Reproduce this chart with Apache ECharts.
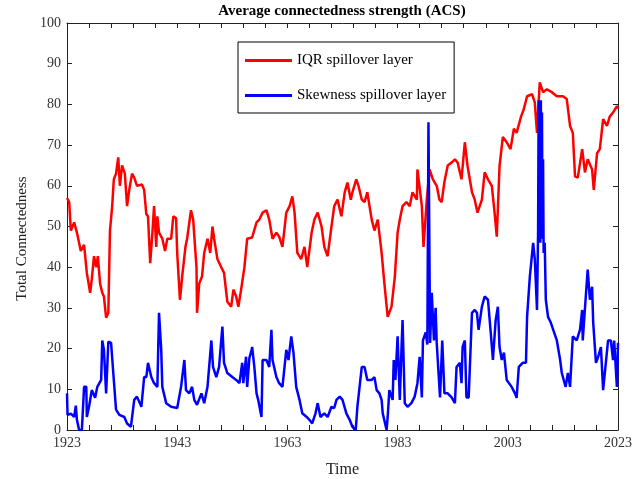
<!DOCTYPE html>
<html>
<head>
<meta charset="utf-8">
<script src="https://cdn.jsdelivr.net/npm/echarts@6/dist/echarts.min.js"></script>
<style>
  html, body { margin: 0; padding: 0; background: #fff; }
  #main { width: 635px; height: 479px; }
</style>
</head>
<body>
<div id="main"></div>
<script>
// IQR spillover layer (red)
const iqrYears = [
  1923.0, 1923.4, 1923.7, 1924.3, 1924.8, 1925.5, 1926.1, 1926.6, 1927.2, 1927.5,
  1927.9, 1928.3, 1928.6, 1929.0, 1929.4, 1929.7, 1930.1, 1930.5, 1930.8, 1931.2,
  1931.5, 1931.9, 1932.3, 1932.6, 1933.0, 1933.5, 1933.9, 1934.3, 1934.8, 1935.2,
  1935.7, 1936.6, 1937.0, 1937.4, 1937.7, 1938.1, 1938.5, 1938.8, 1939.2, 1939.4,
  1939.7, 1940.3, 1940.8, 1941.2, 1941.9, 1942.3, 1942.8, 1943.0, 1943.5, 1943.9,
  1944.5, 1944.8, 1945.5, 1945.9, 1946.5, 1946.6, 1947.0, 1947.5, 1947.9, 1948.5,
  1949.0, 1949.4, 1949.7, 1950.3, 1951.0, 1951.5, 1952.1, 1952.8, 1953.2, 1953.7,
  1954.1, 1954.6, 1955.2, 1955.7, 1956.6, 1957.4, 1957.9, 1958.5, 1959.2, 1959.7,
  1960.3, 1961.0, 1961.5, 1962.1, 1962.8, 1963.4, 1963.9, 1964.3, 1964.8, 1965.5,
  1966.1, 1966.6, 1967.4, 1967.9, 1968.5, 1969.2, 1969.7, 1970.3, 1971.0, 1971.5,
  1972.1, 1972.8, 1973.4, 1973.9, 1974.5, 1974.8, 1975.5, 1975.9, 1976.5, 1977.0,
  1977.5, 1978.3, 1978.8, 1979.4, 1980.1, 1980.6, 1981.2, 1981.9, 1982.5, 1983.0,
  1983.4, 1983.9, 1984.6, 1985.2, 1985.7, 1986.5, 1986.6, 1987.4, 1987.7, 1988.3,
  1988.8, 1989.4, 1990.1, 1990.6, 1991.0, 1991.5, 1992.1, 1992.8, 1993.4, 1993.9,
  1994.6, 1995.2, 1995.7, 1996.5, 1997.0, 1997.5, 1998.3, 1998.8, 1999.4, 2000.1,
  2000.6, 2001.0, 2001.5, 2002.1, 2002.8, 2003.5, 2004.1, 2004.6, 2005.4, 2005.9,
  2006.5, 2007.4, 2007.9, 2008.3, 2008.8, 2009.4, 2010.1, 2011.0, 2011.9, 2013.0,
  2013.7, 2014.3, 2014.8, 2015.2, 2015.7, 2016.5, 2017.0, 2017.5, 2018.3, 2018.6,
  2019.2, 2019.7, 2020.3, 2021.0, 2021.5, 2022.1, 2022.8, 2023.0
];
const iqrValues = [
  57, 56, 49, 51, 48.5, 44, 45.5, 38.6, 33.7, 37,
  42.7, 40, 42.7, 36, 33.7, 32.8, 27.6, 28.8, 49, 55,
  61.6, 63, 67, 60, 65, 63, 55, 59, 63, 62,
  60, 60.3, 59, 53, 52.5, 41, 48.5, 55, 45, 52.5,
  48.5, 47, 44, 47, 47, 52.5, 52, 43.5, 32, 37.7,
  45, 47, 54, 51.7, 40, 28.8, 36, 37.7, 43.5, 47,
  43.5, 50, 47, 42, 40, 38.6, 31.5, 30.3, 34.5, 32.8,
  30.3, 34.5, 40, 47, 47.3, 51, 51.7, 53.4, 54, 51.7,
  47, 48.5, 47.5, 45, 53.4, 55, 57.4, 53.4, 43.5, 42,
  45, 40, 48.5, 51.7, 53.4, 50, 45, 42.7, 50, 55,
  56.6, 52.5, 58.4, 60.8, 56.6, 58.4, 61.6, 60, 56.6, 56,
  58.4, 51.7, 49, 51.7, 43.5, 36, 27.8, 30.3, 37.7, 48.5,
  51.7, 55, 56, 55, 58.4, 56.6, 64, 55, 45, 56.6,
  64, 61.6, 60, 56.6, 56, 61, 65, 65.7, 66.5, 65.7,
  61.6, 70.7, 64.8, 58.4, 56.6, 53.4, 56.6, 63.3, 61.6, 60,
  53.4, 47.5, 64.8, 72, 70.7, 69, 74, 73, 77, 78.8,
  82, 82.5, 80.5, 73, 85.4, 83, 83.7, 83, 82, 82,
  81.3, 74.7, 73, 62.3, 62, 69, 63.3, 66.5, 64, 59,
  68, 69, 76.4, 74.7, 77, 78, 79.6, 79
];

// Skewness spillover layer (blue)
const skewYears = [
  1923.0, 1923.1, 1923.7, 1924.3, 1924.6, 1924.8, 1925.2, 1925.7, 1926.1, 1926.5,
  1926.6, 1927.0, 1927.5, 1928.1, 1928.5, 1929.2, 1929.4, 1929.7, 1930.1, 1930.5,
  1931.0, 1931.4, 1931.9, 1932.5, 1933.4, 1933.9, 1934.6, 1935.2, 1935.7, 1936.5,
  1937.0, 1937.4, 1937.7, 1938.3, 1938.8, 1939.4, 1939.7, 1940.1, 1940.3, 1941.0,
  1941.9, 1943.0, 1943.7, 1944.3, 1944.6, 1945.2, 1945.7, 1946.1, 1946.6, 1947.4,
  1947.9, 1948.5, 1949.2, 1949.5, 1950.1, 1950.6, 1951.2, 1951.5, 1952.1, 1953.0,
  1953.7, 1954.3, 1954.8, 1955.0, 1955.5, 1955.7, 1956.1, 1956.5, 1956.6, 1957.0,
  1957.4, 1957.7, 1958.3, 1958.5, 1959.2, 1959.7, 1960.1, 1960.3, 1961.0, 1961.5,
  1962.1, 1962.8, 1963.2, 1963.7, 1964.1, 1964.6, 1965.2, 1965.7, 1966.5, 1967.0,
  1967.5, 1968.1, 1968.5, 1969.0, 1969.7, 1970.3, 1971.0, 1971.5, 1971.9, 1972.5,
  1973.0, 1973.7, 1974.3, 1974.8, 1975.4, 1975.7, 1976.5, 1977.0, 1977.5, 1978.3,
  1978.8, 1979.2, 1979.7, 1980.1, 1980.3, 1981.0, 1981.2, 1981.5, 1982.1, 1982.3,
  1982.6, 1983.0, 1983.4, 1983.7, 1983.9, 1984.3, 1984.8, 1985.5, 1986.1, 1986.6,
  1987.0, 1987.4, 1987.6, 1988.1, 1988.4, 1988.6, 1988.9, 1989.2, 1989.6, 1989.9,
  1990.1, 1990.7, 1991.1, 1991.5, 1992.1, 1992.8, 1993.4, 1993.7, 1994.3, 1994.6,
  1994.8, 1995.2, 1995.5, 1995.9, 1996.5, 1997.0, 1997.4, 1997.7, 1998.3, 1998.8,
  1999.4, 1999.9, 2000.3, 2000.8, 2001.2, 2001.5, 2001.9, 2002.3, 2002.8, 2003.7,
  2004.3, 2004.6, 2005.0, 2005.7, 2006.3, 2006.5, 2007.0, 2007.6, 2007.9, 2008.3,
  2008.5, 2008.6, 2008.7, 2008.8, 2008.9, 2009.0, 2009.1, 2009.2, 2009.3, 2009.4,
  2009.5, 2009.7, 2009.9, 2010.3, 2010.8, 2011.4, 2011.9, 2012.5, 2012.8, 2013.5,
  2013.9, 2014.3, 2014.8, 2015.5, 2016.1, 2016.5, 2016.6, 2017.2, 2017.5, 2017.9,
  2018.3, 2018.5, 2019.0, 2019.4, 2019.9, 2020.3, 2020.6, 2021.2, 2021.7, 2022.1,
  2022.3, 2022.8, 2023.0
];
const skewValues = [
  9, 3.7, 4, 3.2, 6, 2.5, 0, 0, 10.6, 10.6,
  3.2, 5.7, 9.8, 7.9, 10.6, 12.3, 22, 19.7, 9, 21.7,
  21.4, 14, 5, 3.7, 3.2, 1.6, 0.8, 7.4, 8.2, 5.7,
  13, 13, 16.5, 13, 11.5, 10.6, 28.8, 19.7, 10.6, 6.6,
  5.7, 5.4, 10.6, 17.2, 9.8, 9, 10.6, 7.4, 6.2, 9,
  6.6, 10.6, 22, 15.5, 13, 15.5, 25.4, 16.5, 14, 13,
  12.3, 11.5, 16.5, 11.5, 18, 10.6, 17.7, 19.7, 20.4, 15.5,
  9, 7.4, 3.2, 17.2, 17.2, 15.5, 24.6, 17.2, 13, 11.5,
  10.6, 19.7, 17.2, 23, 19, 10.6, 7.4, 4.1, 3.2, 2.5,
  1.6, 4.1, 6.6, 3.2, 4.1, 3.2, 5.7, 5.4, 7.4, 8.2,
  7.4, 4.1, 2.5, 0.8, 0, 5.7, 15.5, 15.5, 12.3, 12.3,
  13, 9.8, 9, 7.4, 4.1, 0, 3.2, 9.8, 7.4, 17.2,
  12.3, 23, 7.4, 19.7, 27, 6.6, 5.7, 6.6, 8.2, 11.5,
  18, 8, 22, 24, 21, 75.6, 21.4, 33.7, 22, 30,
  21.4, 8, 22, 9, 9, 8, 6.6, 15.5, 16.5, 11.5,
  20.4, 22, 8, 8, 28.8, 29.5, 28.8, 24.6, 30.3, 32.8,
  32, 24, 17.2, 27, 30.3, 20.4, 17.2, 19, 12.3, 10.6,
  9, 7.9, 15.5, 16.5, 16.5, 27.8, 37.7, 46, 42, 29.5,
  49, 81, 47, 80, 46, 81, 48.5, 78, 47, 66.5,
  43.5, 46, 32, 27.8, 26.4, 24, 22, 17.2, 14, 10.6,
  14, 10.6, 23, 22, 24.6, 29.5, 22, 33.7, 39.4, 32,
  35.2, 26.4, 16.5, 18, 20.4, 9.8, 9.8, 22, 22, 17.2,
  22, 10.6, 21.4
];

const yearTicks = [1923, 1943, 1963, 1983, 2003, 2023];
const yTicks = [0, 10, 20, 30, 40, 50, 60, 70, 80, 90, 100];

const serif = '"Liberation Serif", "DejaVu Serif", serif';
const chart = echarts.init(document.getElementById('main'), null, { renderer: 'canvas' });

// MATLAB-like box: ticks point inward on all four sides
function tick() {
  return { show: true, inside: true, length: 5, lineStyle: { color: '#222', width: 1 } };
}
function axisLine() {
  return { show: true, onZero: false, lineStyle: { color: '#222', width: 1 } };
}
// a tick every 4 years, a label every 20
const yearLabel = v => (yearTicks.indexOf(v) >= 0 ? String(v) : '');

const option = {
  backgroundColor: '#fff',
  animation: false,
  textStyle: { fontFamily: serif },
  graphic: [{
    type: 'text',
    x: 342,
    y: 11,
    style: {
      text: 'Average connectedness strength (ACS)',
      font: 'bold 15px ' + serif,
      fill: '#000',
      align: 'center',
      verticalAlign: 'middle'
    }
  }],
  legend: {
    orient: 'vertical',
    left: 238,
    top: 42,
    padding: [11, 8, 10, 7],
    itemGap: 20,
    itemWidth: 47,
    itemHeight: 3,
    icon: 'rect',
    borderColor: '#000',
    borderWidth: 1,
    backgroundColor: '#fff',
    textStyle: { fontFamily: serif, fontSize: 15, color: '#000' },
    data: ['IQR spillover layer', 'Skewness spillover layer']
  },
  grid: { left: 67, right: 17, top: 23, bottom: 49, outerBoundsMode: 'none' },
  xAxis: [{
    type: 'value',
    min: yearTicks[0],
    max: yearTicks[yearTicks.length - 1],
    interval: 4,
    name: 'Time',
    nameLocation: 'middle',
    nameGap: 32,
    nameTextStyle: { fontFamily: serif, fontSize: 16, color: '#222' },
    axisLine: axisLine(),
    axisTick: tick(),
    splitLine: { show: false },
    axisLabel: { fontFamily: serif, fontSize: 14, color: '#333', margin: 6, formatter: yearLabel }
  }, {
    type: 'value',
    position: 'top',
    min: yearTicks[0],
    max: yearTicks[yearTicks.length - 1],
    interval: 4,
    axisLine: axisLine(),
    axisTick: tick(),
    splitLine: { show: false },
    axisLabel: { show: false }
  }],
  yAxis: [{
    type: 'value',
    min: yTicks[0],
    max: yTicks[yTicks.length - 1],
    interval: 10,
    name: 'Total Connectedness',
    nameLocation: 'middle',
    nameGap: 37,
    nameTextStyle: { fontFamily: serif, fontSize: 15, color: '#222', padding: [0, 24, 0, 0] },
    axisLine: axisLine(),
    axisTick: tick(),
    splitLine: { show: false },
    axisLabel: { fontFamily: serif, fontSize: 14, color: '#333', margin: 6 }
  }, {
    type: 'value',
    position: 'right',
    min: yTicks[0],
    max: yTicks[yTicks.length - 1],
    interval: 10,
    axisLine: axisLine(),
    axisTick: tick(),
    splitLine: { show: false },
    axisLabel: { show: false }
  }],
  series: [{
    name: 'IQR spillover layer',
    type: 'line',
    symbol: 'none',
    color: '#ff0000',
    lineStyle: { width: 2.5, color: '#ff0000' },
    data: iqrYears.map((y, i) => [y, iqrValues[i]]),
    z: 2
  }, {
    name: 'Skewness spillover layer',
    type: 'line',
    symbol: 'none',
    color: '#0000ff',
    lineStyle: { width: 2.5, color: '#0000ff' },
    data: skewYears.map((y, i) => [y, skewValues[i]]),
    z: 3
  }]
};

chart.setOption(option);
</script>
</body>
</html>
